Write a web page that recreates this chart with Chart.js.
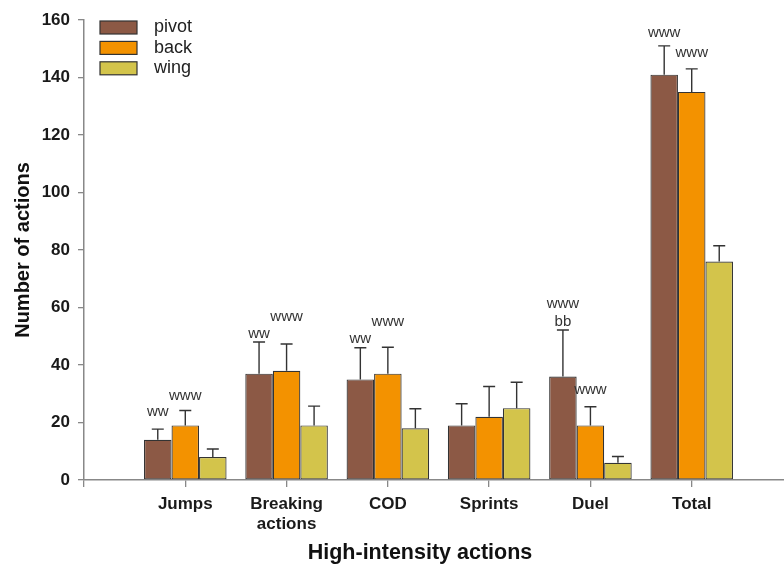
<!DOCTYPE html>
<html><head><meta charset="utf-8">
<script src="https://cdn.jsdelivr.net/npm/chart.js@4.4.1/dist/chart.umd.min.js"></script>
<style>
html,body{margin:0;padding:0;background:#fff;overflow:hidden}
#wrap{width:784px;height:564px;overflow:hidden;position:relative}
#box{width:800px;height:564px;position:absolute;left:0;top:0}
</style></head><body>
<div id="wrap"><div id="box"><canvas id="c" width="800" height="564"></canvas></div></div>
<script>
const categories = ["Jumps", ["Breaking", "actions"], "COD", "Sprints", "Duel", "Total"];
const seriesNames = ["pivot", "back", "wing"];
const pivotMeans = [14, 37, 35, 19, 36, 141];
const pivotSD = [3.7, 11, 11, 7.5, 16.2, 10];
const backMeans = [19, 38, 37, 22, 19, 135];
const backSD = [5.2, 9.3, 9.2, 10.5, 6.5, 8];
const wingMeans = [8, 19, 18, 25, 6, 76];
const wingSD = [2.8, 6.7, 6.8, 9, 2.2, 5.5];
const pivotMarks = ["ww", "ww", "ww", "", ["www", "bb"], "www"];
const pivotMarkLevels = [23.8, 50.8, 49, null, 55.1, 155.4];
const backMarks = ["www", "www", "www", "", "www", "www"];
const backMarkLevels = [29.3, 56.8, 54.9, null, 31.3, 148.4];
const yTickValues = [0, 20, 40, 60, 80, 100, 120, 140, 160];
const xTitle = "High-intensity actions";
const yTitle = "Number of actions";

const colors = ["#8c5945", "#f39200", "#d3c44b"];
const FONT = "'Liberation Sans', Arial, Helvetica, sans-serif";

const labels = ["", ...categories, ""];
const pad = a => [null, ...a, null];
const sds = [pivotSD, backSD, wingSD];
const marks = [pivotMarks, backMarks];
const markLevels = [pivotMarkLevels, backMarkLevels];

const errorBars = {
  id: 'errorBars',
  afterDatasetsDraw(chart) {
    const ctx = chart.ctx, y = chart.scales.y;
    ctx.save();
    ctx.strokeStyle = '#333';
    ctx.lineWidth = 1.4;
    chart.data.datasets.forEach((ds, i) => {
      const meta = chart.getDatasetMeta(i);
      meta.data.forEach((bar, j) => {
        const v = ds.data[j];
        if (v == null) return;
        const sd = sds[i][j - 1];
        const y0 = y.getPixelForValue(v), y1 = y.getPixelForValue(v + sd);
        ctx.beginPath();
        ctx.moveTo(bar.x, y0); ctx.lineTo(bar.x, y1);
        ctx.moveTo(bar.x - 6, y1); ctx.lineTo(bar.x + 6, y1);
        ctx.stroke();
      });
    });
    // significance marks
    ctx.fillStyle = '#333';
    ctx.font = '15px ' + FONT;
    ctx.textAlign = 'center';
    ctx.textBaseline = 'middle';
    marks.forEach((arr, i) => {
      const meta = chart.getDatasetMeta(i);
      arr.forEach((m, k) => {
        const lvl = markLevels[i][k];
        if (!m || lvl == null) return;
        const bar = meta.data[k + 1];
        const py = y.getPixelForValue(lvl);
        const lines = Array.isArray(m) ? m : [m];
        lines.slice().reverse().forEach((t, n) => {
          ctx.fillText(t, bar.x, py - n * 17.5);
        });
      });
    });
    ctx.restore();
  },
  afterDraw(chart) {
    const ctx = chart.ctx, ca = chart.chartArea;
    ctx.save();
    // legend
    chart.data.datasets.forEach((ds, i) => {
      const bx = ca.left + 16, by = ca.top + 1 + i * 20.4;
      ctx.fillStyle = ds.backgroundColor;
      ctx.fillRect(bx, by, 37, 13);
      ctx.strokeStyle = '#333';
      ctx.lineWidth = 1.2;
      ctx.strokeRect(bx, by, 37, 13);
      ctx.fillStyle = '#222';
      ctx.font = '18px ' + FONT;
      ctx.textAlign = 'left';
      ctx.textBaseline = 'middle';
      ctx.fillText(ds.label, bx + 54, by + 6.5);
    });
    // x axis title
    ctx.fillStyle = '#111';
    ctx.font = 'bold 21.5px ' + FONT;
    ctx.textAlign = 'center';
    ctx.textBaseline = 'middle';
    ctx.fillText(xTitle, 420, 553);
    ctx.restore();
  }
};

new Chart(document.getElementById('c'), {
  type: 'bar',
  data: {
    labels: labels,
    datasets: [pivotMeans, backMeans, wingMeans].map((d, i) => ({
      label: seriesNames[i],
      data: pad(d),
      backgroundColor: colors[i],
      borderColor: '#333',
      borderWidth: 1.2,
      borderSkipped: false,
      categoryPercentage: 0.815,
      barPercentage: 1.0
    }))
  },
  options: {
    responsive: false,
    animation: false,
    layout: { padding: { top: 20, right: 5, left: 0, bottom: 0 } },
    plugins: { legend: { display: false }, tooltip: { enabled: false } },
    scales: {
      x: {
        type: 'category',
        offset: false,
        grid: { offset: false, drawOnChartArea: false, drawTicks: true, tickLength: 7, color: '#888', lineWidth: 1.3 },
        border: { color: '#888', width: 1.5 },
        ticks: { autoSkip: false, maxRotation: 0, minRotation: 0, padding: 7, color: '#1a1a1a',
                 font: { family: FONT, size: 17, weight: 'bold' } },
        afterFit(s) { s.height = 84; }
      },
      y: {
        min: 0, max: 160,
        afterBuildTicks(s) { s.ticks = yTickValues.map(v => ({ value: v })); },
        grid: { drawOnChartArea: false, drawTicks: true, tickLength: 6, color: '#888', lineWidth: 1.3 },
        border: { color: '#888', width: 1.5 },
        ticks: { padding: 8, color: '#1a1a1a', font: { family: FONT, size: 17, weight: 'bold' } },
        title: { display: true, text: yTitle, color: '#111', padding: { top: 11, bottom: 0 },
                 font: { family: FONT, size: 20, weight: 'bold' } },
        afterFit(s) { s.width = 84; }
      }
    }
  },
  plugins: [errorBars]
});
</script>
</body></html>
